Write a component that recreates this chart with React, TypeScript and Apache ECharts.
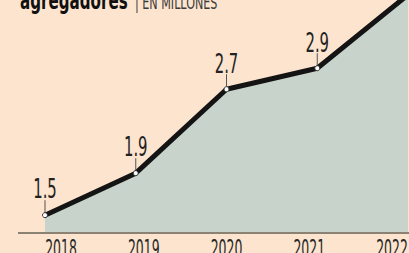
import React, { useEffect, useRef } from "react";
import * as echarts from "echarts";

const years = ["2018", "2019", "2020", "2021", "2022"];
const values = [1.5, 1.9, 2.7, 2.9, 3.6];
const titleBold = "agregadores";
const titleLight = "| EN MILLONES";

const BG = "#FCE4CE";
const AREA = "#C7D3CB";
const INK = "#141414";
const NUM_FONT = "DejaVu Sans";

export default function App() {
  const ref = useRef<HTMLDivElement>(null);
  useEffect(() => {
    if (!ref.current) return;
    const chart = echarts.init(ref.current, null, { renderer: "svg" });
    chart.setOption({
      animation: false,
      backgroundColor: BG,
      grid: [
        { left: 45, right: 1, top: 0, bottom: 20 },
        { left: 61, right: 17, top: 233, bottom: 0 },
      ],
      xAxis: [
        { type: "category", gridIndex: 0, data: years, boundaryGap: false, show: false },
        { type: "category", gridIndex: 1, data: years, boundaryGap: false, show: false },
      ],
      yAxis: [
        { type: "value", gridIndex: 0, min: 1.33, max: 3.55, show: false },
        { type: "value", gridIndex: 1, min: 0, max: 1, show: false },
      ],
      graphic: [
        {
          type: "line",
          shape: { x1: 18, y1: 233, x2: 409, y2: 233 },
          style: { stroke: "#8C8274", lineWidth: 2 },
          z: 10,
        },
        {
          type: "text",
          x: 20,
          y: 1,
          scaleX: 0.63,
          style: {
            text: titleBold,
            font: "bold 24px 'DejaVu Sans'",
            fill: "#111",
            align: "left",
            verticalAlign: "middle",
          },
        },
        {
          type: "text",
          x: 135,
          y: 3,
          scaleX: 0.62,
          style: {
            text: titleLight,
            font: "18px 'DejaVu Sans'",
            fill: "#3a3a3a",
            align: "left",
            verticalAlign: "middle",
          },
        },
      ],
      series: [
        {
          type: "line",
          xAxisIndex: 0,
          yAxisIndex: 0,
          data: values,
          lineStyle: { color: INK, width: 5 },
          areaStyle: { color: AREA, opacity: 1 },
          symbol: "circle",
          symbolSize: 5,
          showSymbol: true,
          itemStyle: { color: "#ffffff", borderColor: "#333", borderWidth: 1 },
          clip: true,
          z: 3,
        },
        {
          type: "custom",
          xAxisIndex: 0,
          yAxisIndex: 0,
          data: values.map((v, i) => [i, v]),
          z: 5,
          renderItem: (params: any, api: any) => {
            const p = api.coord([api.value(0), api.value(1)]);
            const v = values[params.dataIndex];
            return {
              type: "group",
              children: [
                {
                  type: "line",
                  shape: { x1: p[0], y1: p[1] - 3, x2: p[0], y2: p[1] - 15 },
                  style: { stroke: "#555", lineWidth: 1 },
                },
                {
                  type: "text",
                  x: p[0],
                  y: p[1] - 26,
                  scaleX: 0.55,
                  style: {
                    text: v.toFixed(1),
                    font: `27px '${NUM_FONT}'`,
                    fill: "#222",
                    align: "center",
                    verticalAlign: "middle",
                  },
                },
              ],
            };
          },
        },
        {
          type: "custom",
          xAxisIndex: 1,
          yAxisIndex: 1,
          data: years.map((y, i) => [i, 0]),
          z: 5,
          renderItem: (params: any, api: any) => {
            const p = api.coord([api.value(0), 0]);
            return {
              type: "text",
              x: p[0],
              y: p[1] - 4,
              scaleX: 0.52,
              style: {
                text: years[params.dataIndex],
                font: `24px '${NUM_FONT}'`,
                fill: "#2a2a2a",
                align: "center",
                verticalAlign: "middle",
              },
            };
          },
        },
      ],
    });
    return () => chart.dispose();
  }, []);
  return (
    <div
      ref={ref}
      style={{ position: "fixed", left: 0, top: 0, width: 409, height: 253 }}
    />
  );
}
